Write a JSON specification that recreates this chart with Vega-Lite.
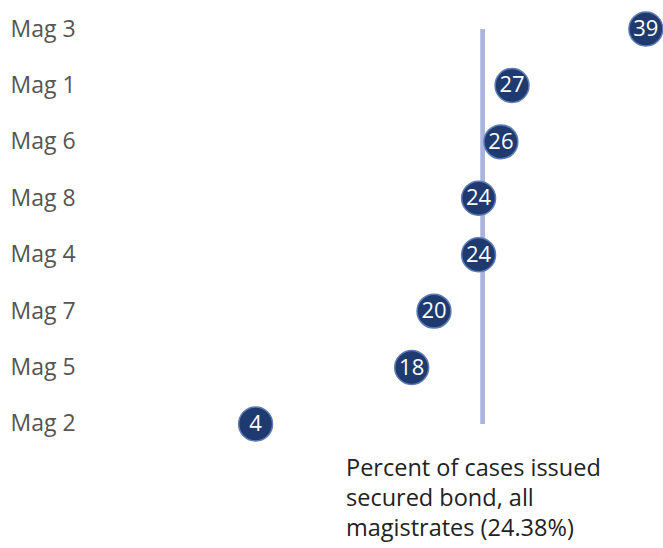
{
  "$schema": "https://vega.github.io/schema/vega-lite/v6.json",
  "width": 663,
  "height": 453,
  "autosize": {"type": "none"},
  "padding": {"left": 0, "top": 0, "right": 0, "bottom": 95},
  "background": "white",
  "config": {"view": {"stroke": null}, "font": "Open Sans"},
  "title": {
    "text": ["Percent of cases issued", "secured bond, all", "magistrates (24.38%)"],
    "orient": "bottom",
    "anchor": "start",
    "dx": 346,
    "offset": 4,
    "font": "Open Sans",
    "fontSize": 23.5,
    "fontWeight": "normal",
    "color": "#222222",
    "lineHeight": 30
  },
  "data": {
    "values": [
      {"mag": "Mag 3", "pct": 39},
      {"mag": "Mag 1", "pct": 27},
      {"mag": "Mag 6", "pct": 26},
      {"mag": "Mag 8", "pct": 24},
      {"mag": "Mag 4", "pct": 24},
      {"mag": "Mag 7", "pct": 20},
      {"mag": "Mag 5", "pct": 18},
      {"mag": "Mag 2", "pct": 4}
    ]
  },
  "encoding": {
    "y": {
      "field": "mag",
      "type": "nominal",
      "sort": ["Mag 3", "Mag 1", "Mag 6", "Mag 8", "Mag 4", "Mag 7", "Mag 5", "Mag 2"],
      "scale": {"type": "point", "padding": 0.514},
      "axis": {
        "title": null,
        "orient": "left",
        "offset": -10,
        "labelAlign": "left",
        "labelPadding": 0,
        "ticks": false,
        "domain": false,
        "labelFont": "Open Sans",
        "labelFontSize": 23,
        "labelColor": "#555555"
      }
    }
  },
  "layer": [
    {
      "mark": {"type": "rule", "color": "#a9b5dd", "strokeWidth": 4},
      "encoding": {
        "x": {"datum": 24.38, "type": "quantitative", "scale": {"domain": [0, 40], "range": [211, 657]}, "axis": null},
        "y": {"datum": "Mag 3"},
        "y2": {"datum": "Mag 2"}
      }
    },
    {
      "mark": {"type": "circle", "size": 1150, "opacity": 1, "color": "#1f3a6f", "stroke": "#5d7bb5", "strokeWidth": 1.5},
      "encoding": {
        "x": {"field": "pct", "type": "quantitative"}
      }
    },
    {
      "mark": {"type": "text", "color": "white", "font": "Open Sans", "fontSize": 22, "align": "center", "baseline": "middle"},
      "encoding": {
        "x": {"field": "pct", "type": "quantitative"},
        "text": {"field": "pct", "type": "quantitative"}
      }
    }
  ]
}
